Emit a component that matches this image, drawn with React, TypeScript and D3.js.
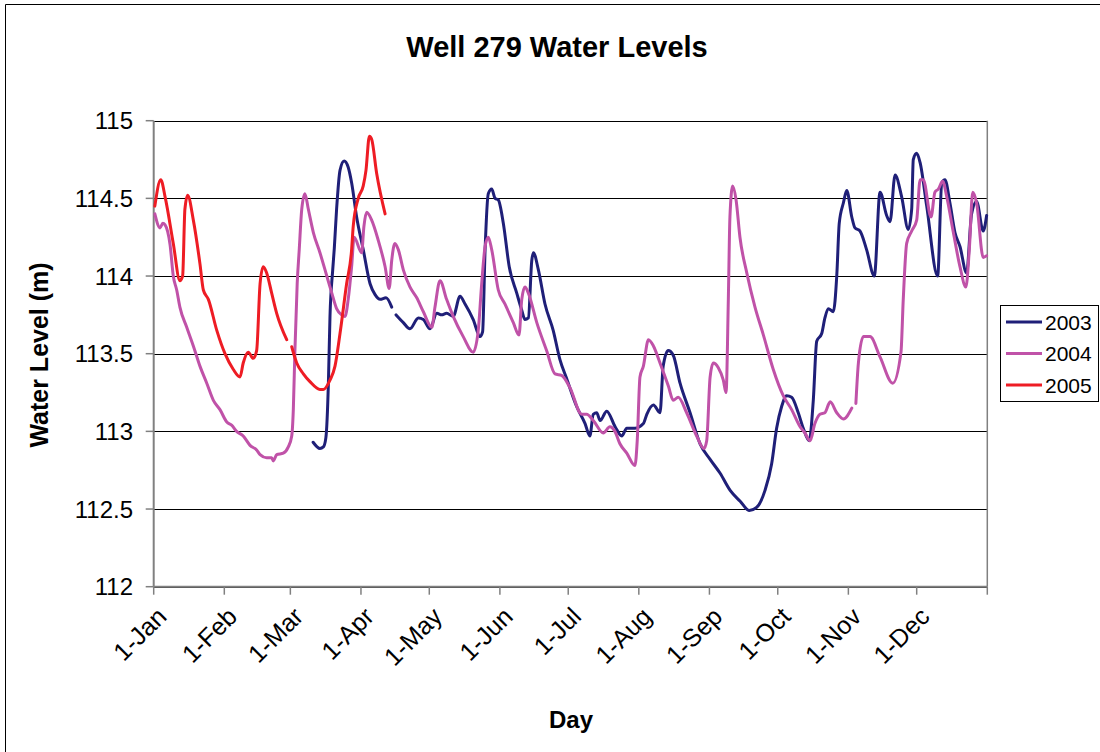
import React from "react";
import * as d3 from "d3";

// ---------- data (day = days since 1-Jan, level in metres) ----------
const monthLabels = ["1-Jan", "1-Feb", "1-Mar", "1-Apr", "1-May", "1-Jun", "1-Jul", "1-Aug", "1-Sep", "1-Oct", "1-Nov", "1-Dec"];
const yTicks = [112, 112.5, 113, 113.5, 114, 114.5, 115];
const yTickLabels = ["112", "112.5", "113", "113.5", "114", "114.5", "115"];
const seriesNames = ["2003", "2004", "2005"];
const seriesColors = ["#1f1f78", "#c052a8", "#ee1c24"];

const series2003: [number, number | null][] = [
  [70, 112.93], [73, 112.89], [74.5, 112.9], [75.6, 112.96], [76.7, 113.31], [77.4, 113.74], [78.6, 114.04],
  [79.3, 114.18], [80.3, 114.43], [81.8, 114.68], [83.6, 114.74], [85.4, 114.7], [86.9, 114.6], [89.1, 114.38],
  [92, 114.17], [95, 113.95], [97.2, 113.88], [99.4, 113.85], [102, 113.86], [104.5, 113.8], [105.4, null],
  [106.4, 113.75], [109.6, 113.7], [112.5, 113.66], [116.2, 113.73], [118.4, 113.72], [121.3, 113.66],
  [124.3, 113.76], [126.4, 113.75], [128.6, 113.76], [131.5, 113.74], [134.5, 113.87], [136.7, 113.82],
  [140.3, 113.72], [143.3, 113.61], [144.4, 113.64], [145.5, 114.17], [146.9, 114.53], [148.4, 114.56],
  [149.9, 114.5], [151.3, 114.49], [153.5, 114.34], [156.1, 114.06], [159.4, 113.89], [161.6, 113.78],
  [163, 113.72], [164.5, 113.73], [166, 114.1], [166.7, 114.15], [168.9, 114.04], [171.8, 113.82],
  [175.4, 113.65], [178.4, 113.46], [181.3, 113.34], [185.7, 113.16], [189.4, 113.05], [191.5, 112.97],
  [193, 113.11], [194.5, 113.12], [196, 113.07], [198.9, 113.13], [202.6, 113.03], [205.5, 112.97],
  [207.7, 113.02], [211.3, 113.02], [215, 113.05], [216.5, 113.11], [219.4, 113.17], [222.3, 113.12],
  [223.7, 113.42], [225.9, 113.52], [228.1, 113.49], [231.1, 113.31], [235.5, 113.12], [239.9, 112.92],
  [244.3, 112.82], [248.7, 112.73], [253.1, 112.62], [257.5, 112.55], [261.5, 112.49], [264.7, 112.51],
  [268.4, 112.62], [271.3, 112.79], [273.5, 113.02], [275.7, 113.16], [277.9, 113.23], [280.1, 113.22],
  [283, 113.12], [285.2, 113.02], [287.8, 112.94], [289.6, 113.2], [291.1, 113.58], [293.3, 113.63],
  [294.7, 113.73], [296.2, 113.79], [298.4, 113.77], [299.9, 114.0], [301, 114.34], [302.8, 114.47],
  [304.3, 114.55], [306.5, 114.38], [307.9, 114.31], [310.1, 114.29], [313, 114.17], [316.4, 114.0],
  [318.9, 114.54], [321.8, 114.39], [323.3, 114.35], [325.5, 114.65], [328.4, 114.51], [331.3, 114.3],
  [332.8, 114.43], [333.5, 114.75], [335, 114.79], [336.5, 114.73], [339.4, 114.45], [344.2, 114.0],
  [346, 114.6], [347.4, 114.62], [349.6, 114.47], [351.8, 114.28], [354, 114.19], [356.9, 114.02],
  [359.1, 114.4], [361.3, 114.48], [364.2, 114.29], [365.7, 114.39],
];

const series2004: [number, number | null][] = [
  [0.5, 114.4], [2.8, 114.31], [4, 114.34], [5, 114.33], [7.2, 114.2], [8.6, 114.0], [10.1, 113.91],
  [11.5, 113.8], [14.5, 113.67], [17.4, 113.55], [20.3, 113.42], [23.3, 113.31], [26.2, 113.2],
  [29.1, 113.14], [32.1, 113.06], [34.2, 113.04], [36.4, 113.0], [39.3, 112.97], [42.3, 112.91],
  [45.2, 112.88], [46.7, 112.85], [49.6, 112.83], [51.8, 112.83], [52.5, 112.81], [54, 112.85],
  [56.9, 112.86], [59.1, 112.9], [60.6, 112.97], [61.3, 113.14], [62, 113.52], [63, 113.95],
  [63.9, 114.17], [65, 114.43], [66.4, 114.53], [67.9, 114.43], [70.1, 114.28], [73, 114.15],
  [76, 114.0], [78.2, 113.89], [80.3, 113.79], [82.5, 113.75], [84, 113.74], [85.4, 113.85],
  [86.9, 114.06], [88, 114.25], [91.3, 114.15], [92.3, 114.32], [93.5, 114.41], [95.7, 114.36],
  [98.6, 114.23], [101.6, 114.06], [103.4, 113.92], [104.5, 114.1], [105.9, 114.21], [107.4, 114.17],
  [109.6, 114.04], [112.5, 113.93], [115.5, 113.86], [118.4, 113.77], [122.1, 113.67], [123.5, 113.8],
  [125.7, 113.97], [128.6, 113.85], [131.5, 113.74], [135.9, 113.61], [140.3, 113.51], [142.5, 113.65],
  [144, 113.95], [145.5, 114.19], [146.9, 114.25], [148.4, 114.17], [151.3, 113.91], [154.2, 113.82],
  [157.9, 113.7], [160.4, 113.62], [161.6, 113.85], [163, 113.93], [164.5, 113.89], [168.2, 113.7],
  [172.5, 113.52], [176.2, 113.37], [179.1, 113.36], [182.8, 113.28], [187.9, 113.11], [190.1, 113.11],
  [193, 113.07], [197.4, 112.99], [200.3, 113.03], [202.5, 113.0], [204.7, 112.92], [207.7, 112.86],
  [211.3, 112.78], [212.3, 112.94], [213.5, 113.35], [215, 113.42], [217.2, 113.59], [219.4, 113.55],
  [222.3, 113.44], [226, 113.29], [228.1, 113.2], [230.3, 113.22], [234, 113.12], [238.4, 112.97],
  [241.6, 112.89], [242.8, 112.94], [244.3, 113.35], [245.7, 113.44], [247.9, 113.41], [250.1, 113.33],
  [251.3, 113.25], [252.3, 113.85], [253, 114.38], [254.2, 114.58], [255.7, 114.49], [257.4, 114.25],
  [260.4, 114.02], [264, 113.8], [267.7, 113.62], [272, 113.4], [276.4, 113.23], [280.1, 113.14],
  [283.8, 113.03], [285.9, 112.99], [288.2, 112.94], [290.3, 113.05], [292.5, 113.11], [294.7, 113.12],
  [297, 113.19], [299.9, 113.12], [302.8, 113.08], [306.5, 113.15], [307.4, null], [308.3, 113.18],
  [309.4, 113.44], [311.6, 113.61], [314.5, 113.61], [318.9, 113.48], [324.5, 113.31], [328.1, 113.51],
  [329.1, 113.85], [330.6, 114.21], [332.8, 114.29], [335, 114.36], [336.5, 114.62], [337.9, 114.62],
  [341.3, 114.38], [343, 114.54], [344.5, 114.56], [346.4, 114.61], [348.2, 114.51], [351.1, 114.28],
  [354, 114.06], [356.6, 113.93], [358.1, 114.17], [359.6, 114.54], [361.3, 114.47], [364.2, 114.12],
  [365.7, 114.13],
];

const series2005: [number, number | null][] = [
  [0.5, 114.45], [3.1, 114.62], [5, 114.51], [8.6, 114.21], [11.5, 113.97], [12.7, 114.0], [13.7, 114.43],
  [14.9, 114.52], [17.4, 114.36], [20.3, 114.08], [21.8, 113.91], [24, 113.85], [27.7, 113.65],
  [31.3, 113.5], [34.9, 113.4], [37.9, 113.35], [39.3, 113.44], [41.5, 113.51], [43.7, 113.47],
  [45.2, 113.52], [46.7, 113.95], [48.1, 114.06], [49.6, 114.02], [51.8, 113.89], [54, 113.76],
  [58.4, 113.59], [59.5, null], [60.6, 113.545], [62.8, 113.44], [65.7, 113.37], [68.6, 113.32],
  [73, 113.27], [74.5, 113.27], [77.4, 113.33], [79.6, 113.42], [81.8, 113.63], [84.7, 113.95],
  [86.9, 114.17], [87.6, 114.32], [89.8, 114.5], [92, 114.58], [93.2, 114.68], [94.7, 114.9],
  [95.7, 114.88], [97.9, 114.66], [101.6, 114.4],
];

const allSeries = [series2003, series2004, series2005];

// ---------- layout ----------
const W = 1100;
const H = 752;
const plot = { left: 153.7, right: 987.3, top: 120.7, bottom: 586.7 };
const start = new Date(2004, 0, 1);
const end = new Date(2005, 0, 1);
const DAY = 86400000;
const toDate = (d: number) => new Date(start.getTime() + d * DAY);

const font = "'Liberation Sans', Arial, sans-serif";

export default function App() {
  const x = d3.scaleTime().domain([start, end]).range([plot.left, plot.right]);
  const y = d3.scaleLinear().domain([112, 115]).range([plot.bottom, plot.top]);
  const monthTicks = d3.timeMonth.range(start, d3.timeDay.offset(end, 1));

  const line = d3
    .line<[number, number | null]>()
    .defined((d) => d[1] !== null)
    .x((d) => x(toDate(d[0])))
    .y((d) => y(d[1] as number))
    .curve(d3.curveMonotoneX);

  return (
    <svg width={W} height={H} style={{ position: "absolute", left: 0, top: 0, background: "#fff" }} fontFamily={font}>
      {/* outer chart border */}
      <path d={`M5.5,${H + 10} V4.5 H${W + 10}`} fill="none" stroke="#000" strokeWidth={1} />

      {/* title */}
      <text x={557} y={57} textAnchor="middle" fontSize={29} fontWeight="bold" fill="#000">
        Well 279 Water Levels
      </text>

      {/* gridlines */}
      {yTicks.map((t) => (
        <line key={t} x1={plot.left} x2={plot.right} y1={Math.round(y(t)) + 0.5} y2={Math.round(y(t)) + 0.5} stroke="#000" strokeWidth={1} />
      ))}

      {/* plot border right */}
      <line x1={plot.right} x2={plot.right} y1={plot.top} y2={plot.bottom} stroke="#808080" strokeWidth={1.5} />

      {/* y axis */}
      <line x1={plot.left} x2={plot.left} y1={plot.top} y2={plot.bottom} stroke="#808080" strokeWidth={2} />
      {yTicks.map((t, i) => (
        <g key={t}>
          <line x1={plot.left - 8} x2={plot.left} y1={y(t)} y2={y(t)} stroke="#808080" strokeWidth={1.5} />
          <text x={133} y={y(t)} dy="0.36em" textAnchor="end" fontSize={24} fill="#000">
            {yTickLabels[i]}
          </text>
        </g>
      ))}

      {/* x axis */}
      <line x1={plot.left} x2={plot.right} y1={plot.bottom} y2={plot.bottom} stroke="#808080" strokeWidth={2} />
      {monthTicks.map((m, i) => (
        <g key={i}>
          <line x1={x(m)} x2={x(m)} y1={plot.bottom} y2={plot.bottom + 8} stroke="#808080" strokeWidth={1.5} />
          {i < monthLabels.length && (
            <text
              transform={`translate(${x(m) + 8},${plot.bottom + 25}) rotate(-45)`}
              textAnchor="end"
              dy="0.36em"
              fontSize={25}
              fill="#000"
            >
              {monthLabels[i]}
            </text>
          )}
        </g>
      ))}

      {/* axis titles */}
      <text transform="translate(48,355) rotate(-90)" textAnchor="middle" fontSize={25} fontWeight="bold" fill="#000">
        Water Level (m)
      </text>
      <text x={571} y={728} textAnchor="middle" fontSize={24} fontWeight="bold" fill="#000">
        Day
      </text>

      {/* series */}
      {allSeries.map((s, i) => (
        <path key={i} d={line(s) || ""} fill="none" stroke={seriesColors[i]} strokeWidth={3} strokeLinejoin="round" strokeLinecap="round" />
      ))}

      {/* legend */}
      <rect x={1000.5} y={305.5} width={98} height={96} fill="#fff" stroke="#000" strokeWidth={1} />
      {seriesNames.map((n, i) => {
        const ly = 322 + i * 31.5;
        return (
          <g key={n}>
            <line x1={1006} x2={1042} y1={ly} y2={ly} stroke={seriesColors[i]} strokeWidth={3} />
            <text x={1045} y={ly} dy="0.36em" fontSize={21} fill="#000">
              {n}
            </text>
          </g>
        );
      })}
    </svg>
  );
}
